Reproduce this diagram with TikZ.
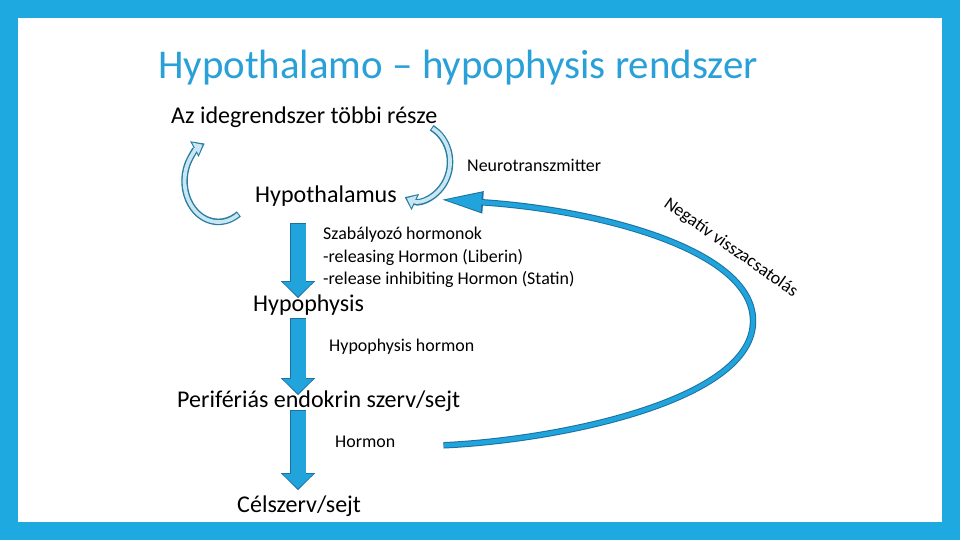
\documentclass[tikz,border=0pt]{standalone}
\usepackage{fontspec}
\setmainfont{Carlito}
\usetikzlibrary{arrows.meta,calc}

\definecolor{frameblue}{RGB}{31,169,225}
\definecolor{titleblue}{RGB}{41,160,216}
\definecolor{arrowblue}{RGB}{33,163,219}
\definecolor{arrowedge}{RGB}{26,112,160}
\definecolor{loopfill}{RGB}{200,230,243}
\definecolor{loopedge}{RGB}{42,125,158}

\tikzset{
  organ/.style={anchor=base west, inner sep=0pt, font=\fontsize{20.5}{24}\selectfont},
  messenger/.style={anchor=base west, inner sep=0pt, font=\fontsize{15.3}{19}\selectfont},
  downarrow/.style={draw=arrowblue, line width=12.8pt,
    -{Triangle[width=25.5pt,length=12.5pt]}, shorten >=1.3pt,
    preaction={draw=arrowedge, line width=14.4pt,
      -{Triangle[width=28.5pt,length=14.5pt]}, shorten >=0pt, shorten <=-0.8pt}},
  feedback/.style={draw=arrowblue, line width=3.8pt,
    -{Triangle[width=15.5pt,length=31pt]}, shorten >=3.5pt,
    preaction={draw=arrowedge, line width=5.5pt,
      -{Triangle[width=17.5pt,length=36pt]}, shorten >=0pt}},
  swirl/.style={draw=loopfill, line width=3.2pt,
    -{Triangle[width=11pt,length=7pt]}, shorten >=2pt,
    preaction={draw=loopedge, line width=5.6pt,
      -{Triangle[width=14.5pt,length=10pt]}, shorten >=0pt, shorten <=-0.9pt}},
}

\begin{document}
\begin{tikzpicture}[x=0.03cm,y=0.03cm]
  \useasboundingbox (0,0) rectangle (960,540);
  \fill[frameblue] (0,0) rectangle (960,540);
  \fill[white] (18,18) rectangle (942,522);

  % texts
  \node[anchor=base west, inner sep=0pt, font=\fontsize{34.9}{40}\selectfont, text=titleblue] (title) at (158,461) {Hypothalamo – hypophysis rendszer};
  \node[organ] (idegr) at (171,416) {Az idegrendszer többi része};
  \node[messenger] (neuro) at (467,368) {Neurotranszmitter};
  \node[organ] (hypothalamus) at (255,337) {Hypothalamus};
  \node[messenger] (reg1) at (323,300) {Szabályozó hormonok};
  \node[messenger] (reg2) at (323,277) {-releasing Hormon (Liberin)};
  \node[messenger] (reg3) at (323,255) {-release inhibiting Hormon (Statin)};
  \node[organ] (hypophysis) at (253,228) {Hypophysis};
  \node[messenger] (hh) at (329,188) {Hypophysis hormon};
  \node[organ] (perif) at (177,132) {Perifériás endokrin szerv/sejt};
  \node[messenger] (hormon) at (335,92) {Hormon};
  \node[organ] (celszerv) at (237,27) {Célszerv/sejt};
  \node[messenger, rotate=-35] (negfb) at (663,334) {Negatív visszacsatolás};

  % down arrows
  \coordinate (axis) at (298,0);
  \draw[downarrow] ($(hypothalamus.south -| axis)+(0,-17)$) -- ($(hypophysis.north -| axis)+(0,-3)$);
  \draw[downarrow] ($(hypophysis.south -| axis)+(0,-3)$) -- ($(perif.north -| axis)+(0,-4)$);
  \draw[downarrow] ($(perif.south -| axis)+(0,1)$) -- ($(celszerv.north -| axis)+(0,6)$);

  % nerve loops
  \coordinate (loopL) at ($(hypothalamus.west)+(-17,-18)$);
  \coordinate (loopR) at ($(idegr.south east)+(-5,0)$);
  \draw[swirl] (loopL) arc[start angle=-55, end angle=-246, x radius=34, y radius=41];
  \draw[swirl] (loopR) arc[start angle=62, end angle=-112, x radius=33, y radius=38];

  % feedback
  \draw[feedback] ($(hormon.east)+(48,-3)$) .. controls (560,100) and (755,140) .. (753,220)
    .. controls (752,290) and (600,330) .. ($(hypothalamus.east)+(44,-3)$);
\end{tikzpicture}
\end{document}
